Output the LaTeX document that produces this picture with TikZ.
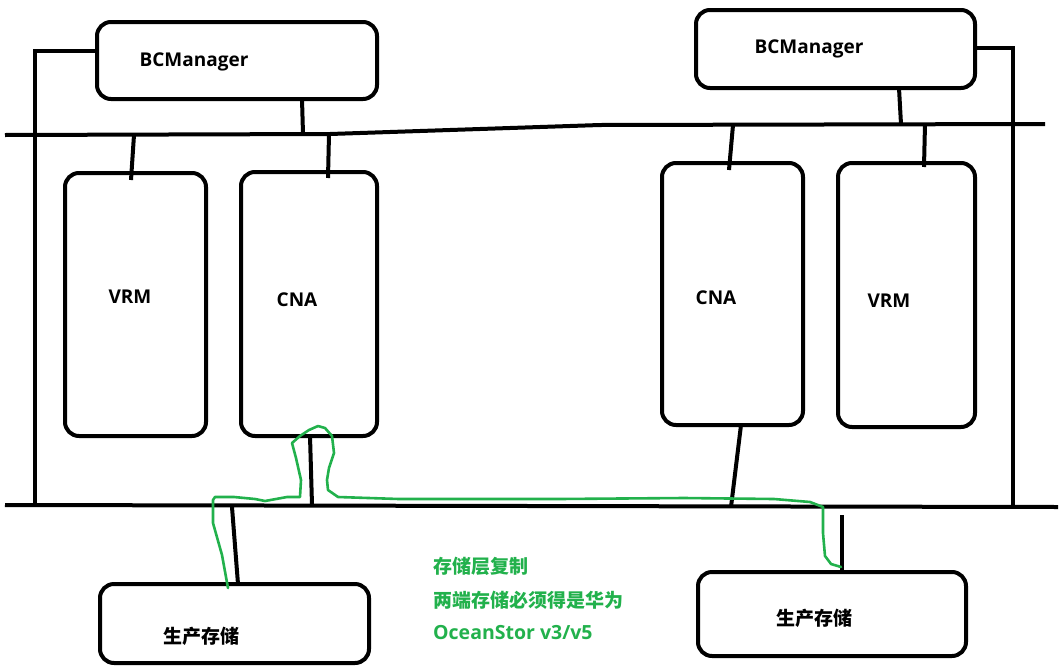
\documentclass[tikz,border=0pt]{standalone}
\usepackage{fontspec}
\setmainfont{Open Sans}
\newfontfamily\cjk{Noto Sans CJK SC}
\definecolor{pgreen}{RGB}{34,177,76}
\tikzset{
  box/.style={draw,line width=4pt,rounded corners=14pt,inner sep=0pt},
  wire/.style={line width=4pt},
  lbl/.style={font=\bfseries\fontsize{19}{22}\selectfont,inner sep=0pt},
  clbl/.style={font=\cjk\bfseries\fontsize{19}{22}\selectfont,inner sep=0pt},
  gnote/.style={text=pgreen,anchor=west,inner sep=0pt},
  gline/.style={draw=pgreen,line width=2.6pt,line join=round,line cap=round}
}
\begin{document}
\begin{tikzpicture}[x=1pt,y=-1pt]
\useasboundingbox (0,0) rectangle (1063,667);
% boxes
\node[box,minimum width=280,minimum height=77] (bcl) at (237,60.5) {};
\node[box,minimum width=279,minimum height=78] (bcr) at (835.5,49) {};
\node[box,minimum width=141,minimum height=263] (vrml) at (135.5,304.5) {};
\node[box,minimum width=136,minimum height=264] (cnal) at (309,304) {};
\node[box,minimum width=141,minimum height=262] (cnar) at (732.5,294) {};
\node[box,minimum width=137,minimum height=264] (vrmr) at (906.5,295) {};
\node[box,minimum width=269,minimum height=79] (stl) at (234.5,623.5) {};
\node[box,minimum width=268,minimum height=84] (str) at (832,614) {};
% labels
\node[lbl] (tbcl) at (194,62) {BCManager};
\node[lbl] (tbcr) at (809,49) {BCManager};
\node[lbl] (tvrml) at (130,297) {VRM};
\node[lbl] (tcnal) at (297,300) {CNA};
\node[lbl] (tcnar) at (716,298) {CNA};
\node[lbl] (tvrmr) at (889,301) {VRM};
\node[clbl] (tstl) at (201,636) {生产存储};
\node[clbl] (tstr) at (814,618) {生产存储};
% buses
\coordinate (ta) at (5,135);
\coordinate (tb) at (330,134);
\coordinate (tc) at (600,125);
\coordinate (td) at (1045,124);
\draw[wire] (ta) -- (tb) -- (tc) -- (td);
\coordinate (ba) at (5,505);
\coordinate (bb) at (1058,507);
\draw[wire] (ba) -- (bb);
% side lines
\coordinate (l1) at (97,51);
\coordinate (l2) at (35,51);
\coordinate (l3) at (35,504);
\draw[wire] (l1) -- (l2) -- (l3);
\coordinate (r1) at (975,48);
\coordinate (r2) at (1013,48);
\coordinate (r3) at (1013,507);
\draw[wire] (r1) -- (r2) -- (r3);
% drops from top bus
\coordinate (c1a) at (302,99);  \coordinate (c1b) at (303,134);
\draw[wire] (c1a) -- (c1b);
\coordinate (c2a) at (134,135); \coordinate (c2b) at (131,180);
\draw[wire] (c2a) -- (c2b);
\coordinate (c3a) at (329,134); \coordinate (c3b) at (328,178);
\draw[wire] (c3a) -- (c3b);
\coordinate (c4a) at (899,88);  \coordinate (c4b) at (901,124);
\draw[wire] (c4a) -- (c4b);
\coordinate (c5a) at (733,125); \coordinate (c5b) at (729,170);
\draw[wire] (c5a) -- (c5b);
\coordinate (c6a) at (925,124); \coordinate (c6b) at (924,167);
\draw[wire] (c6a) -- (c6b);
% drops to bottom bus
\coordinate (d1a) at (310,436); \coordinate (d1b) at (312,505);
\draw[wire] (d1a) -- (d1b);
\coordinate (d2a) at (741,425); \coordinate (d2b) at (731,507);
\draw[wire] (d2a) -- (d2b);
\coordinate (d3a) at (232,507); \coordinate (d3b) at (238,584);
\draw[wire] (d3a) -- (d3b);
\coordinate (d4a) at (842,515); \coordinate (d4b) at (842,572);
\draw[wire] (d4a) -- (d4b);
% green replication path
\draw[gline] (228,588) -- (222,555) -- (213,523) -- (213,500) -- (215,497)
  -- (234,497) -- (255,499) -- (265,501) -- (276,499) -- (287,497) -- (300,497)
  -- (301,480) -- (296,458) -- (292,443) -- (300,436) -- (309,430) -- (318,426)
  -- (325,428) -- (332,436) -- (334,453) -- (329,468) -- (327,480) -- (328,490)
  -- (338,497) -- (399,499) -- (559,499) -- (684,498) -- (774,499) -- (810,502)
  -- (823,507) -- (823,533) -- (825,556) -- (831,564) -- (841,567);
% note
\node[gnote,font=\cjk\bfseries\fontsize{19}{22}\selectfont] (n1) at (433,566) {存储层复制};
\node[gnote,font=\cjk\bfseries\fontsize{19}{22}\selectfont] (n2) at (433,600) {两端存储必须得是华为};
\node[gnote,font=\bfseries\fontsize{19.5}{22}\selectfont] (n3) at (433,633) {OceanStor v3/v5};
\end{tikzpicture}
\end{document}
